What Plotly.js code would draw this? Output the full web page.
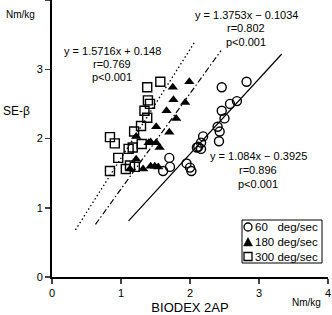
<!DOCTYPE html>
<html><head><meta charset="utf-8">
<script src="https://cdn.plot.ly/plotly-3.0.1.min.js"></script>
<style>html,body{margin:0;padding:0;background:#fff;overflow:hidden}#chart{width:332px;height:315px;}</style>
</head><body><div id="chart"></div>
<script>
// 60 deg/sec (open circles)
const x60 = [2.82, 2.46, 2.68, 2.58, 2.46, 2.50, 2.40, 2.43, 2.42, 2.19, 2.16, 2.12, 2.16, 2.10, 1.70, 1.71, 1.61, 1.95, 2.00, 2.02];
const y60 = [2.82, 2.74, 2.54, 2.50, 2.40, 2.29, 2.17, 2.10, 1.96, 2.03, 1.94, 1.88, 1.85, 1.87, 1.72, 1.59, 1.53, 1.64, 1.58, 1.53];
// 180 deg/sec (filled triangles)
const x180 = [1.99, 1.75, 1.76, 1.93, 1.66, 1.80, 1.51, 1.70, 1.22, 1.40, 1.43, 1.51, 1.56, 1.22, 1.13, 1.32, 1.43, 1.49, 1.54];
const y180 = [2.82, 2.74, 2.56, 2.52, 2.40, 2.29, 2.17, 2.09, 2.03, 1.94, 1.95, 1.94, 1.87, 1.70, 1.56, 1.56, 1.60, 1.60, 1.59];
// 300 deg/sec (open squares)
const x300 = [1.57, 1.38, 1.39, 1.42, 1.34, 1.38, 1.29, 1.19, 0.84, 0.91, 1.11, 1.17, 1.30, 0.96, 0.84, 1.07, 1.13, 1.20];
const y300 = [2.82, 2.74, 2.55, 2.50, 2.40, 2.30, 2.18, 2.10, 2.02, 1.93, 1.85, 1.87, 1.92, 1.72, 1.53, 1.56, 1.61, 1.59];
// regression line end points
const fit60x = [1.11, 3.33], fit60y = [0.81, 3.22];
const fit180x = [0.63, 2.45], fit180y = [0.76, 3.27];
const fit300x = [0.34, 2.06], fit300y = [0.68, 3.38];
// legend names and equations
const names = ['60\u00a0\u00a0\u00a0deg/sec', '180 deg/sec', '300 deg/sec'];
const eq60 = ['y = 1.084x − 0.3925', 'r=0.896', 'p<0.001'];
const eq180 = ['y = 1.3753x − 0.1034', 'r=0.802', 'p<0.001'];
const eq300 = ['y = 1.5716x + 0.148', 'r=0.769', 'p<0.001'];
const xTicks = [0, 1, 2, 3, 4];
const yTicks = [0, 1, 2, 3, 4];

const FONT = 'Liberation Sans, Arial, sans-serif';
const W = 332, H = 315, ML = 52, MR = 4, MT = 0, MB = 38;
const PW = W - ML - MR, PH = H - MT - MB;
function px2x(p) { return (p - ML) / PW; }
function px2y(p) { return (H - MB - p) / PH; }

const traces = [
  {x: x60, y: y60, type: 'scatter', mode: 'markers', name: names[0],
   marker: {symbol: 'circle-open', size: 9, color: '#000', line: {width: 1.4, color: '#000'}}},
  {x: x180, y: y180, type: 'scatter', mode: 'markers', name: names[1],
   marker: {symbol: 'triangle-up', size: 9, color: '#000'}},
  {x: x300, y: y300, type: 'scatter', mode: 'markers', name: names[2],
   marker: {symbol: 'square-open', size: 9, color: '#000', line: {width: 1.4, color: '#000'}}},
  {x: fit60x, y: fit60y, type: 'scatter', mode: 'lines', hoverinfo: 'skip',
   line: {color: '#000', width: 1.2, dash: 'solid'}},
  {x: fit180x, y: fit180y, type: 'scatter', mode: 'lines', hoverinfo: 'skip',
   line: {color: '#000', width: 1.2, dash: '6px,2.5px,1.5px,2.5px'}},
  {x: fit300x, y: fit300y, type: 'scatter', mode: 'lines', hoverinfo: 'skip',
   line: {color: '#000', width: 1.3, dash: '1.5px,2.5px'}}
];

function eqAnns(lines, xs, ys) {
  return lines.map((t, i) => ({xref: 'paper', yref: 'paper', x: px2x(xs[i]), y: px2y(ys[i]),
    xanchor: 'center', yanchor: 'middle', text: t, showarrow: false,
    font: {family: FONT, size: 11, color: '#000'}}));
}

// custom legend (box, symbols, labels)
const legRows = [227, 242, 256.5];
const symX = 248, txtX = 253;
const shapes = [
  {type: 'rect', xref: 'paper', yref: 'paper', x0: px2x(242), x1: px2x(322), y0: px2y(220), y1: px2y(263),
   line: {color: '#000', width: 1}, fillcolor: '#fff', layer: 'above'},
  {type: 'circle', xref: 'paper', yref: 'paper', x0: px2x(symX - 4), x1: px2x(symX + 4),
   y0: px2y(legRows[0] - 4), y1: px2y(legRows[0] + 4), line: {color: '#000', width: 1.3}, layer: 'above'},
  {type: 'path', xref: 'paper', yref: 'paper', layer: 'above',
   path: 'M ' + px2x(symX - 4.5) + ' ' + px2y(legRows[1] + 4) + ' L ' + px2x(symX + 4.5) + ' ' + px2y(legRows[1] + 4) +
         ' L ' + px2x(symX) + ' ' + px2y(legRows[1] - 4.5) + ' Z',
   fillcolor: '#000', line: {color: '#000', width: 0.5}},
  {type: 'rect', xref: 'paper', yref: 'paper', x0: px2x(symX - 4), x1: px2x(symX + 4),
   y0: px2y(legRows[2] - 4), y1: px2y(legRows[2] + 4), line: {color: '#000', width: 1.3}, layer: 'above'}
];
const legAnns = names.map((n, i) => ({xref: 'paper', yref: 'paper', x: px2x(txtX), y: px2y(legRows[i]),
  xanchor: 'left', yanchor: 'middle', text: n, showarrow: false,
  font: {family: FONT, size: 11.5, color: '#000'}}));

const layout = {
  width: W, height: H,
  margin: {l: ML, r: MR, t: MT, b: MB, autoexpand: false},
  paper_bgcolor: '#fff', plot_bgcolor: '#fff',
  font: {family: FONT, size: 11, color: '#000'},
  showlegend: false,
  xaxis: {range: [0, 4], tickvals: xTicks, ticks: 'outside', ticklen: 5, tickwidth: 1.5,
    showline: true, linewidth: 2, linecolor: '#000', showgrid: false, zeroline: false,
    tickfont: {size: 11}, fixedrange: true, automargin: false,
    title: {text: 'BIODEX 2AP', font: {size: 13}, standoff: 6}},
  yaxis: {range: [0, 4], tickvals: yTicks, ticks: 'outside', ticklen: 5, tickwidth: 1.5,
    showline: true, linewidth: 2, linecolor: '#000', showgrid: false, zeroline: false,
    tickfont: {size: 11}, fixedrange: true, automargin: false},
  shapes: shapes,
  annotations: [].concat(
    eqAnns(eq300, [112, 112, 112], [51.5, 64, 77]),
    eqAnns(eq180, [246.5, 246, 246], [15, 28, 41.5]),
    eqAnns(eq60, [258.5, 258, 258], [156, 170, 183.5]),
    [
      {xref: 'paper', yref: 'paper', x: px2x(1), y: px2y(111), xanchor: 'left', yanchor: 'middle',
       text: 'SE-β', showarrow: false, font: {family: FONT, size: 12, color: '#000'}},
      {xref: 'paper', yref: 'paper', x: px2x(20), y: px2y(14), xanchor: 'center', yanchor: 'middle',
       text: 'Nm/kg', showarrow: false, font: {family: FONT, size: 10, color: '#000'}},
      {xref: 'paper', yref: 'paper', x: px2x(306), y: px2y(302), xanchor: 'center', yanchor: 'middle',
       text: 'Nm/kg', showarrow: false, font: {family: FONT, size: 10, color: '#000'}}
    ],
    legAnns)
};
Plotly.newPlot('chart', traces, layout, {displayModeBar: false, staticPlot: true});
</script></body></html>
